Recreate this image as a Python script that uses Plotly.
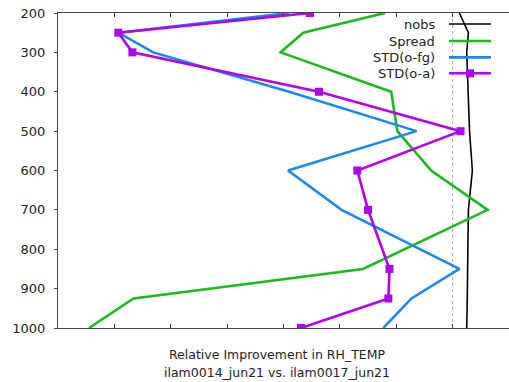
import plotly.graph_objects as go

# Pressure levels (hPa)
levels = [200, 250, 300, 400, 500, 600, 700, 850, 925, 1000]
nobs_levels = [200, 250, 300, 400, 500, 600, 700, 800, 850, 925, 1000]

# Relative improvement profiles
nobs = [0.12, 0.28, 0.25, 0.27, 0.30, 0.35, 0.28, 0.27, 0.27, 0.26, 0.25]
spread = [-1.20, -2.65, -3.05, -1.09, -0.98, -0.38, 0.62, -1.59, -5.66, -6.45]
std_ofg = [-2.90, -5.93, -5.31, -2.90, -0.64, -2.92, -1.97, 0.12, -0.73, -1.23]
std_oa = [-2.53, -5.93, -5.68, -2.37, 0.14, -1.69, -1.50, -1.12, -1.14, -2.69]

y_ticks = [200, 300, 400, 500, 600, 700, 800, 900, 1000]
x_ticks = [-7, -6, -5, -4, -3, -2, -1, 0, 1]

GREEN = "#1cb81c"
BLUE = "#1a88f0"
PURPLE = "#b000ee"
FONT = "DejaVu Sans"

fig = go.Figure()
fig.add_trace(go.Scatter(x=nobs, y=nobs_levels, mode="lines",
                         line=dict(color="black", width=1.6), name="nobs"))
fig.add_trace(go.Scatter(x=spread, y=levels, mode="lines",
                         line=dict(color=GREEN, width=2.6), name="Spread"))
fig.add_trace(go.Scatter(x=std_ofg, y=levels, mode="lines",
                         line=dict(color=BLUE, width=2.6), name="STD(o-fg)"))
fig.add_trace(go.Scatter(x=std_oa, y=levels, mode="lines+markers",
                         line=dict(color=PURPLE, width=2.6),
                         marker=dict(symbol="square", size=8, color=PURPLE),
                         name="STD(o-a)"))

# zero line
fig.add_shape(type="line", xref="x", yref="paper", x0=0, x1=0, y0=0, y1=1,
              line=dict(color="#aaaaaa", width=1, dash="dot"), layer="below")

# key drawn to the right of the labels
legend_rows = [("nobs", "black", 1.6, False),
               ("Spread", GREEN, 2.6, False),
               ("STD(o-fg)", BLUE, 2.6, False),
               ("STD(o-a)", PURPLE, 2.6, True)]
row_y = [0.965, 0.911, 0.859, 0.8086]
for (label, color, w, mark), yy in zip(legend_rows, row_y):
    fig.add_annotation(x=0.840, y=yy, xref="paper", yref="paper", text=label,
                       showarrow=False, xanchor="right", yanchor="middle",
                       font=dict(family=FONT, size=13, color="#222"))
    fig.add_shape(type="line", xref="paper", yref="paper", x0=0.867, x1=0.960,
                  y0=yy, y1=yy, line=dict(color=color, width=w))
    if mark:
        fig.add_shape(type="rect", xref="paper", yref="paper",
                      x0=0.9135 - 0.0089, x1=0.9135 + 0.0089,
                      y0=yy - 0.0127, y1=yy + 0.0127,
                      fillcolor=color, line=dict(width=0))

# two-line x-axis caption
caption = ["Relative Improvement in RH_TEMP", "ilam0014_jun21 vs. ilam0017_jun21"]
for text, yy in zip(caption, [-0.0857, -0.1397]):
    fig.add_annotation(x=0.4855, y=yy, xref="paper", yref="paper", text=text,
                       showarrow=False, xanchor="center", yanchor="middle",
                       font=dict(family=FONT, size=12.5, color="#222"))

fig.update_layout(
    width=509, height=382,
    margin=dict(l=58, r=0, t=13, b=54),
    paper_bgcolor="white", plot_bgcolor="white",
    showlegend=False,
    font=dict(family=FONT, size=13, color="#222"),
    xaxis=dict(range=[-7, 1], tickvals=x_ticks, showticklabels=False,
               ticks="inside", ticklen=4, tickcolor="#444",
               showline=True, linecolor="#444", linewidth=1, mirror="ticks",
               showgrid=False, zeroline=False),
    yaxis=dict(range=[1000, 200], tickvals=y_ticks, ticks="outside", ticklen=3,
               tickcolor="#444", showline=True, linecolor="#444", linewidth=1,
               showgrid=False, zeroline=False, ticklabelstandoff=6,
               tickfont=dict(family=FONT, size=13, color="#222")),
    yaxis2=dict(range=[1000, 200], tickvals=y_ticks, overlaying="y", side="right",
                ticks="inside", ticklen=4, tickcolor="#444", showline=False,
                showticklabels=False, showgrid=False, zeroline=False),
)

fig.write_html("out.html")
